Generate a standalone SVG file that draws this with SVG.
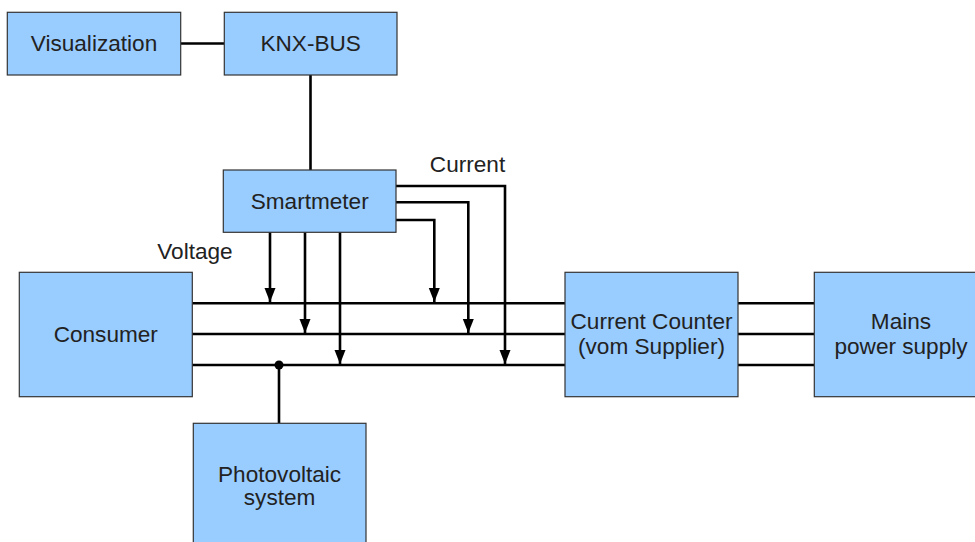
<svg xmlns="http://www.w3.org/2000/svg" width="975" height="542" viewBox="0 0 975 542">
<style>
.box{fill:#99ccff;stroke:#333;stroke-width:1.2}
.t{font-family:"Liberation Sans",Arial,sans-serif;font-size:22.6px;fill:#222;text-anchor:middle}
.w{fill:none;stroke:#000;stroke-width:2.6}
</style>
<defs>
<marker id="a" markerUnits="userSpaceOnUse" markerWidth="14" markerHeight="12" refX="14" refY="6" orient="auto" viewBox="0 0 14 12">
<path d="M0,0.5 L14,6 L0,11.5 Z" fill="#000"/>
</marker>
</defs>
<g id="connectors">
<path class="w" d="M181,43.5 H224"/>
<path class="w" d="M310.5,75 V170"/>
<path class="w" d="M192,303.3 H565 M192,334 H565 M192,365 H565"/>
<path class="w" d="M738,303.3 H814 M738,334 H814 M738,365 H814"/>
<path class="w" d="M279,365 V423"/>
<circle cx="279" cy="365" r="4.5" fill="#000"/>
<path class="w" d="M270,232 V302" marker-end="url(#a)"/>
<path class="w" d="M305,232 V333" marker-end="url(#a)"/>
<path class="w" d="M340,232 V364" marker-end="url(#a)"/>
<path class="w" d="M396,220 H434.3 V302" marker-end="url(#a)"/>
<path class="w" d="M396,202.3 H468.3 V333" marker-end="url(#a)"/>
<path class="w" d="M396,186 H505 V364" marker-end="url(#a)"/>
</g>
<g id="visualization"><rect class="box" x="7.3" y="12.3" width="173.4" height="62.7"/><text class="t" x="94" y="51">Visualization</text></g>
<g id="knx-bus"><rect class="box" x="224.3" y="12.3" width="172.7" height="62.7"/><text class="t" x="310.7" y="51">KNX-BUS</text></g>
<g id="smartmeter"><rect class="box" x="223.3" y="170" width="172.7" height="62.3"/><text class="t" x="309.7" y="209">Smartmeter</text></g>
<g id="consumer"><rect class="box" x="19.3" y="272.3" width="173" height="124.4"/><text class="t" x="105.8" y="342.3">Consumer</text></g>
<g id="current-counter"><rect class="box" x="565" y="272.3" width="173" height="124.4"/><text class="t" x="651.5" y="329.3">Current Counter</text><text class="t" x="651.5" y="354.3">(vom Supplier)</text></g>
<g id="mains"><rect class="box" x="814.3" y="272.3" width="173" height="124.4"/><text class="t" x="901" y="329.3">Mains</text><text class="t" x="901" y="354.3">power supply</text></g>
<g id="photovoltaic"><rect class="box" x="193.3" y="423.3" width="172.7" height="130"/><text class="t" x="279.6" y="481.7">Photovoltaic</text><text class="t" x="279.6" y="505">system</text></g>
<g id="labels"><text class="t" x="467.5" y="171.5">Current</text><text class="t" x="195" y="258.5">Voltage</text></g>
</svg>
